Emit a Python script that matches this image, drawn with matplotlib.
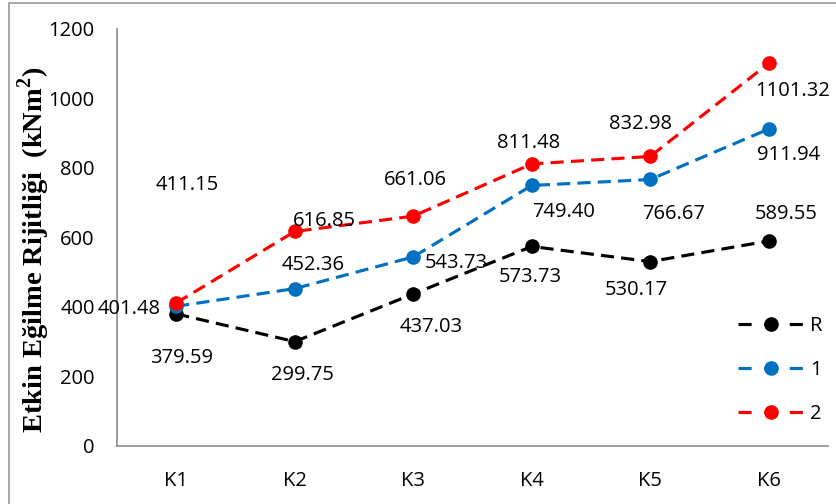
import matplotlib
matplotlib.use("Agg")
import matplotlib.pyplot as plt
from matplotlib.patches import Rectangle

categories = ["K1", "K2", "K3", "K4", "K5", "K6"]
series_names = ["R", "1", "2"]
values_r = [379.59, 299.75, 437.03, 573.73, 530.17, 589.55]
values_1 = [401.48, 452.36, 543.73, 749.40, 766.67, 911.94]
values_2 = [411.15, 616.85, 661.06, 811.48, 832.98, 1101.32]
y_ticks = [0, 200, 400, 600, 800, 1000, 1200]
y_label = r"Etkin Eğilme Rijitliği  (kNm$^{\mathbf{2}}$)"

colors = ["#000000", "#0070C0", "#FF0000"]

plt.rcParams["mathtext.fontset"] = "custom"
plt.rcParams["mathtext.rm"] = "Liberation Serif"
plt.rcParams["mathtext.bf"] = "Liberation Serif:bold"

# label offsets from each point, in pixels (dx right, dy up)
label_offsets = [
    [(5, -44), (8, -33), (18, -33), (-1, -31), (-14, -28), (17, 27)],
    [(-47, -3), (18, 24), (43, -6), (32, -27), (23, -35), (20, -26)],
    [(11, 118), (30, 10), (2, 36), (-3, 21), (-10, 32), (24, -28)],
]

W, H = 837, 504
fig = plt.figure(figsize=(W / 100, H / 100), dpi=100)
font = "Open Sans"
fs = 14.5

# outer chart frame
fig.patches.append(Rectangle((9 / W, -0.1), 1.2, 1.1 - 3.5 / H, transform=fig.transFigure,
                             fill=False, edgecolor="#9a9a9a", linewidth=1.2))

left, right, top, bottom = 117, 828, 29, 445.7
ax = fig.add_axes([left / W, 1 - bottom / H, (right - left) / W, (bottom - top) / H])

x = list(range(len(categories)))
all_series = [values_r, values_1, values_2]
px2pt = 72 / 100
for vals, name, col, offs in zip(all_series, series_names, colors, label_offsets):
    ax.plot(x, vals, color=col, linewidth=2.25, dashes=(4.2, 2.3),
            marker="o", markersize=9.5, label=name, dash_capstyle="butt")
    for xi, v, (dx, dy) in zip(x, vals, offs):
        ax.annotate(f"{v:.2f}", (xi, v), xytext=(dx * px2pt, dy * px2pt),
                    textcoords="offset points", ha="center", va="center",
                    fontsize=fs, family=font, color="#000000")

ax.set_xlim(-0.5, len(categories) - 0.5)
ax.set_ylim(0, 1200)
ax.set_yticks(y_ticks)
ax.set_yticklabels([str(t) for t in y_ticks], family=font, fontsize=fs)
ax.set_xticks(x)
ax.set_xticklabels(categories, family=font, fontsize=fs)
ax.tick_params(axis="y", length=0, pad=16)
ax.tick_params(axis="x", length=0, pad=18)
for s in ["top", "right"]:
    ax.spines[s].set_visible(False)
for s in ["left", "bottom"]:
    ax.spines[s].set_color("#8c8c8c")
    ax.spines[s].set_linewidth(1.2)

fig.text(33.5 / W, 1 - 250 / H, y_label, rotation=90, ha="center", va="center",
         family="Liberation Serif", fontweight="bold", fontsize=20.5)

leg = ax.legend(loc="upper left", bbox_to_anchor=((738 - left) / (right - left), (bottom - 316) / (bottom - top)),
                frameon=False, prop={"family": font, "size": fs}, handlelength=3.3,
                handletextpad=0.3, labelspacing=1.2, borderaxespad=0, borderpad=0)
for h in leg.legend_handles:
    h.set_dashes((4.2, 4.0))

fig.savefig("out.png", dpi=100)
